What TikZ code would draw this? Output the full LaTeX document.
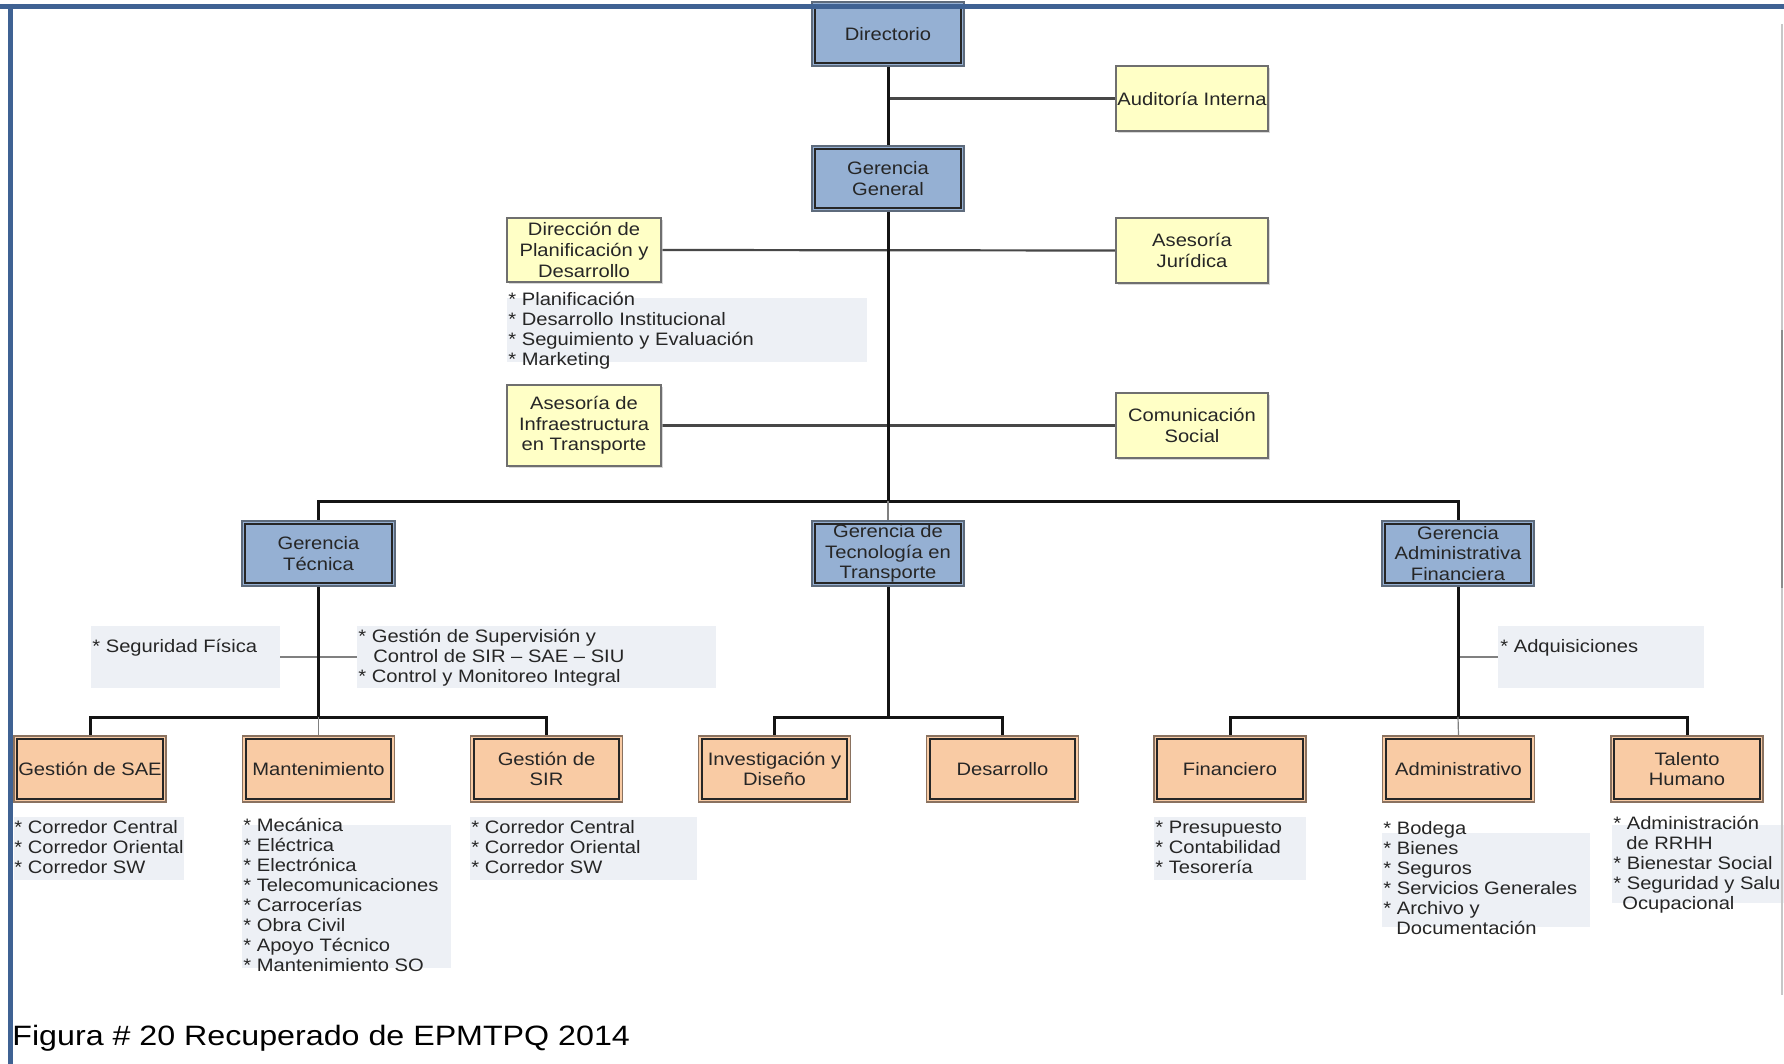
\documentclass[tikz,border=0pt]{standalone}
\usepackage{fontspec}
\setmainfont{Liberation Sans}[FakeStretch=1.12]
\newfontfamily\figcapfont{Liberation Sans}[FakeStretch=1.15]
\usetikzlibrary{shadows}

\definecolor{framblue}{HTML}{3F6293}
\definecolor{bluefill}{HTML}{95B0D3}
\definecolor{bluerim}{HTML}{5E6B7C}
\definecolor{unitfill}{HTML}{F9CBA4}
\definecolor{unitrim}{HTML}{8A7260}
\definecolor{stafffill}{HTML}{FFFFC6}
\definecolor{staffrim}{HTML}{6F6F6F}
\definecolor{listgray}{HTML}{EDF0F5}

\pgfdeclarelayer{lines}
\pgfsetlayers{lines,main}

\begin{document}
\begin{tikzpicture}[x=0.5pt,y=-0.5pt,
  orgbox/.style={rectangle, inner sep=0.5pt, align=center,
    font=\fontsize{9pt}{10.3pt}\selectfont, text=black!85,
    minimum width=76pt, minimum height=32.5pt, line width=0.8pt},
  bluebox/.style={orgbox, fill=bluefill, draw=bluerim},
  unitbox/.style={orgbox, fill=unitfill, draw=unitrim, minimum height=33pt},
  staffbox/.style={orgbox, fill=stafffill, draw=staffrim, line width=1pt,
    drop shadow={fill=black!25, opacity=0.6, shadow xshift=0.8pt, shadow yshift=-0.8pt}},
  innerframe/.style={draw=black!85, line width=1pt},
  listbg/.style={rectangle, fill=listgray, draw=none, inner sep=0pt},
  listtext/.style={anchor=north west, inner sep=0pt, align=left,
    font=\fontsize{9pt}{10pt}\selectfont, text=black!85},
  mainline/.style={line width=1.5pt, draw=black!92},
  sideline/.style={line width=1.1pt, draw=black!72},
  thinline/.style={line width=0.6pt, draw=black!50},
]
\useasboundingbox (0,0) rectangle (1784,1064);
\begin{pgfonlayer}{lines}
  \fill[white] (0,0) rectangle (1784,1064);
\end{pgfonlayer}

% ---- shaded lists of functions
\node[listbg, minimum width=180pt, minimum height=32pt] (dpdl) at (687,330) {};
\node[listbg, minimum width=94.5pt, minimum height=31pt] (seg) at (185.5,657) {};
\node[listbg, minimum width=179.5pt, minimum height=31pt] (sup) at (536.5,657) {};
\node[listbg, minimum width=103pt, minimum height=31pt] (adq) at (1601,657) {};
\node[listbg, minimum width=85pt, minimum height=31.5pt] (sael) at (99,848.5) {};
\node[listbg, minimum width=104.5pt, minimum height=71.5pt] (mantl) at (346.5,896.5) {};
\node[listbg, minimum width=113.5pt, minimum height=31.5pt] (sirl) at (583.5,848.5) {};
\node[listbg, minimum width=76pt, minimum height=31.5pt] (finl) at (1230,848.5) {};
\node[listbg, minimum width=104pt, minimum height=47pt] (adml) at (1486,880) {};
\node[listbg, minimum width=86pt, minimum height=39pt] (thl) at (1698,864) {};

% ---- top levels
\node[bluebox, minimum height=32pt] (dir) at (888,34) {Directorio};
\node[bluebox] (gg) at (888,178.5) {Gerencia\\General};
\node[staffbox] (aud) at (1192,98.5) {Auditoría Interna};
\node[staffbox, minimum width=77pt, minimum height=32pt] (dpd) at (584,250) {Dirección de\\Planificación y\\Desarrollo};
\node[staffbox] (aj) at (1192,250.5) {Asesoría\\Jurídica};
\node[staffbox, minimum width=77pt, minimum height=40.5pt] (ai) at (584,425.5) {Asesoría de\\Infraestructura\\en Transporte};
\node[staffbox] (cs) at (1192,425.5) {Comunicación\\Social};

% ---- managements
\node[bluebox, minimum width=76.5pt] (gt) at (318.5,553.5) {Gerencia\\Técnica};
\node[bluebox] (gtt) at (888,553.5) {Gerencia de\\Tecnología en\\Transporte};
\node[bluebox] (gaf) at (1458,553.5) {Gerencia\\Administrativa\\Financiera};

% ---- units
\node[unitbox] (sae) at (90,769) {Gestión de SAE};
\node[unitbox] (mant) at (318.5,769) {Mantenimiento};
\node[unitbox] (sir) at (546.5,769) {Gestión de\\SIR};
\node[unitbox] (inv) at (774.5,769) {Investigación y\\Diseño};
\node[unitbox] (des) at (1002.5,769) {Desarrollo};
\node[unitbox] (fin) at (1230,769) {Financiero};
\node[unitbox] (adm) at (1458.5,769) {Administrativo};
\node[unitbox] (th) at (1687,769) {Talento\\Humano};

% inner rule of the framed boxes
\foreach \n in {dir,gg,gt,gtt,gaf,sae,mant,sir,inv,des,fin,adm,th}
  \draw[innerframe] ([shift={(2pt,-2pt)}]\n.north west) rectangle ([shift={(-2pt,2pt)}]\n.south east);

% ---- function lists
\node[listtext] (dpdt) at (508,291) {\strut* Planificación\\* Desarrollo Institucional\\* Seguimiento y Evaluación\\* Marketing};
\node[listtext] (segt) at (92,638) {\strut* Seguridad Física};
\node[listtext] (supt) at (358,628) {\strut* Gestión de Supervisión y\\\hspace*{7.5pt}Control de SIR – SAE – SIU\\* Control y Monitoreo Integral};
\node[listtext] (adqt) at (1500,638) {\strut* Adquisiciones};
\node[listtext] (saet) at (14,819) {\strut* Corredor Central\\* Corredor Oriental\\* Corredor SW};
\node[listtext] (mantt) at (243,817) {\strut* Mecánica\\* Eléctrica\\* Electrónica\\* Telecomunicaciones\\* Carrocerías\\* Obra Civil\\* Apoyo Técnico\\* Mantenimiento SO};
\node[listtext] (sirt) at (471,819) {\strut* Corredor Central\\* Corredor Oriental\\* Corredor SW};
\node[listtext] (fint) at (1155,819) {\strut* Presupuesto\\* Contabilidad\\* Tesorería};
\node[listtext] (admt) at (1383,820) {\strut* Bodega\\* Bienes\\* Seguros\\* Servicios Generales\\* Archivo y\\\hspace*{6.5pt}Documentación};
\begin{scope}
  \clip (0,0) rectangle (1779,1064);
  \node[listtext] (tht) at (1613,815) {\strut* Administración\\\hspace*{6.5pt}de RRHH\\* Bienestar Social\\* Seguridad y Salud\\\hspace*{4.5pt}Ocupacional};
\end{scope}

% ---- connectors
\coordinate (bus) at (888,501);
\coordinate (gtbus) at (318.5,717);
\coordinate (gttbus) at (888,717);
\coordinate (gafbus) at (1458,717);
\begin{pgfonlayer}{lines}
  \draw[sideline] (dir.south |- aud.west) -- (aud.west);
  \draw[sideline] (dpd.east) -- (aj.west);
  \draw[sideline] (ai.east) -- (cs.west);
  \draw[thinline] (seg.east) -- (sup.west);
  \draw[thinline] (gaf.south |- adq.west) -- (adq.west);
  \draw[mainline] (dir.south) -- (gg.north);
  \draw[mainline] (gg.south) -- (bus);
  \draw[mainline] (gt.north) |- (bus) -| (gaf.north);
  \draw[thinline] (bus) -- (gtt.north);
  \draw[mainline] (gt.south) -- (gtbus);
  \draw[mainline] (sae.north) |- (gtbus) -| (sir.north);
  \draw[thinline] (gtbus) -- (mant.north);
  \draw[mainline] (gtt.south) -- (gttbus);
  \draw[mainline] (inv.north) |- (gttbus) -| (des.north);
  \draw[mainline] (gaf.south) -- (gafbus);
  \draw[mainline] (fin.north) |- (gafbus) -| (th.north);
  \draw[thinline] (gafbus) -- (adm.north);
\end{pgfonlayer}

% ---- caption
\node[anchor=base west, inner sep=0pt, font=\figcapfont\fontsize{14pt}{16pt}\selectfont] (caption) at (12,1045) {Figura \# 20 Recuperado de EPMTPQ 2014};

% ---- page frame
\draw[framblue, line width=2.5pt] (0,6.5) -- (1784,6.5);
\draw[framblue, line width=2.5pt] (10.5,4) -- (10.5,1064);
\draw[black!22, line width=0.6pt] (1782,24) -- (1782,995);
\draw[black!45, line width=0.9pt] (1782,330) -- (1782,588);
\end{tikzpicture}
\end{document}
